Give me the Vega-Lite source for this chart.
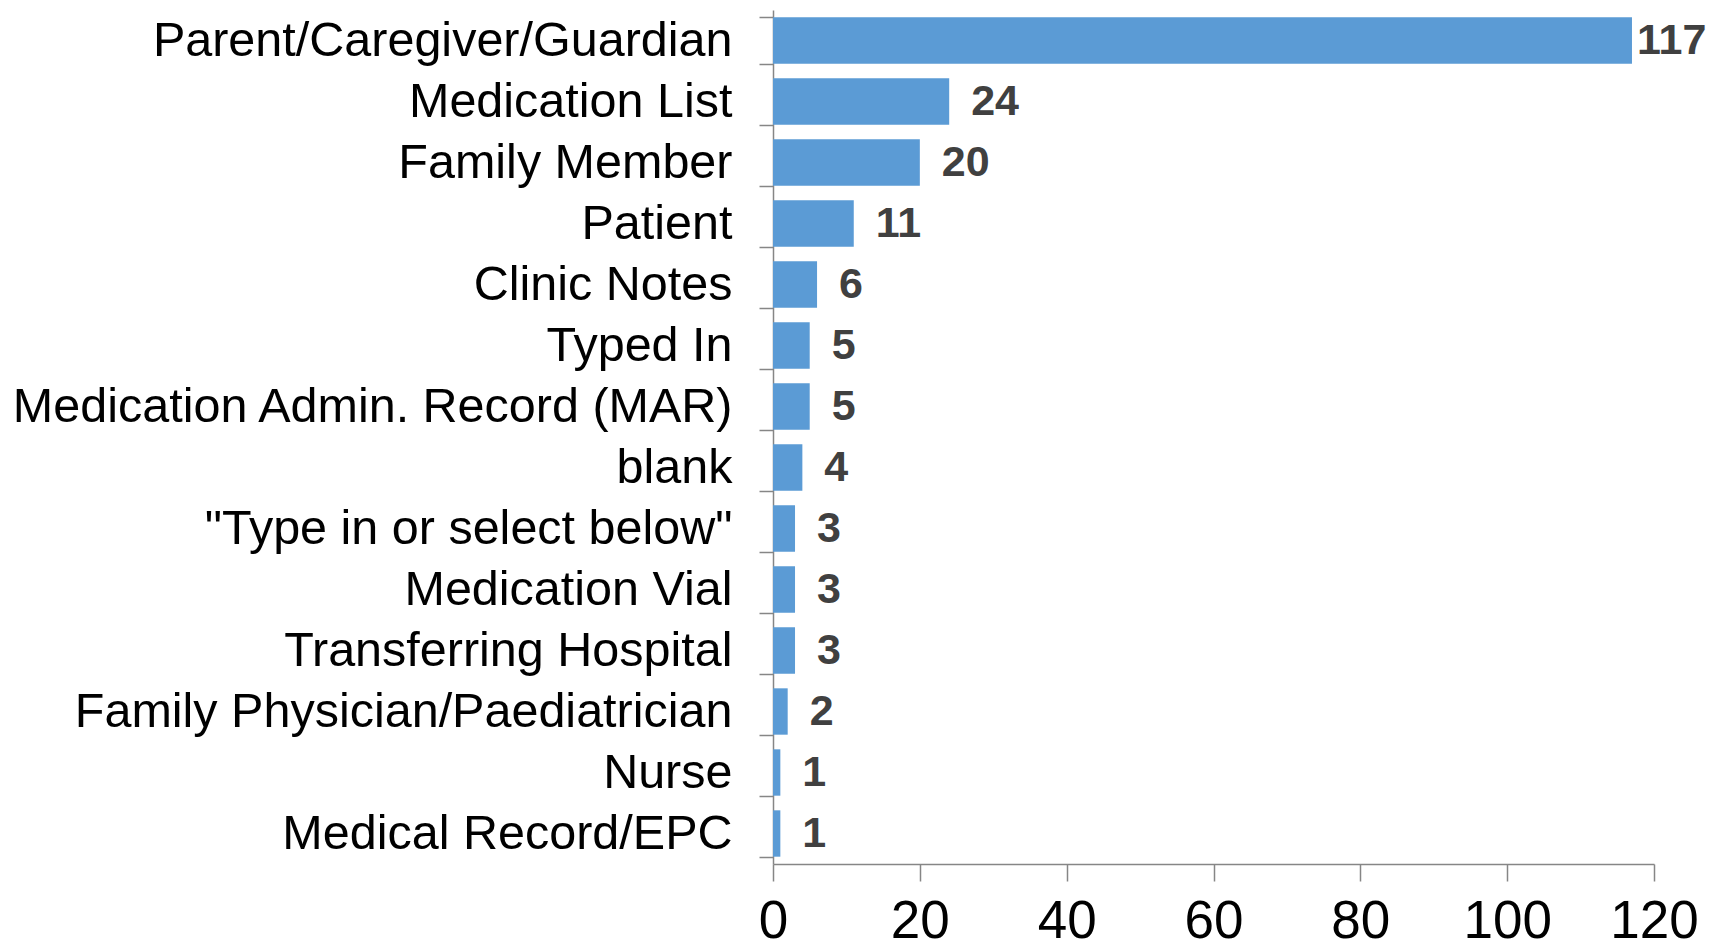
{
  "$schema": "https://vega.github.io/schema/vega-lite/v6.json",
  "autosize": "none",
  "width": 881,
  "height": 854,
  "padding": {"left": 773, "top": 10, "right": 66, "bottom": 83},
  "background": "white",
  "data": {"values": [
    {"source": "Parent/Caregiver/Guardian", "count": 117},
    {"source": "Medication List", "count": 24},
    {"source": "Family Member", "count": 20},
    {"source": "Patient", "count": 11},
    {"source": "Clinic Notes", "count": 6},
    {"source": "Typed In", "count": 5},
    {"source": "Medication Admin. Record (MAR)", "count": 5},
    {"source": "blank", "count": 4},
    {"source": "\"Type in or select below\"", "count": 3},
    {"source": "Medication Vial", "count": 3},
    {"source": "Transferring Hospital", "count": 3},
    {"source": "Family Physician/Paediatrician", "count": 2},
    {"source": "Nurse", "count": 1},
    {"source": "Medical Record/EPC", "count": 1}
  ]},
  "encoding": {
    "y": {"field": "source", "type": "nominal", "sort": null,
      "scale": {"paddingInner": 0.24, "paddingOuter": 0.12},
      "axis": {"title": null, "tickBand": "extent", "tickSize": 14, "labelPadding": 27,
        "labelFont": "Liberation Sans", "labelFontSize": 48.5, "labelColor": "#000000",
        "domainColor": "#868686", "tickColor": "#868686", "domainWidth": 1.5, "tickWidth": 1.5, "labelLimit": 1000}},
    "x": {"field": "count", "type": "quantitative",
      "scale": {"domain": [0, 120], "nice": false},
      "axis": {"title": null, "values": [0, 20, 40, 60, 80, 100, 120], "grid": false, "tickSize": 17, "labelPadding": 14, "labelFlush": false,
        "labelFont": "Liberation Sans", "labelFontSize": 53, "labelColor": "#000000",
        "domainColor": "#868686", "tickColor": "#868686", "domainWidth": 1.5, "tickWidth": 1.5}}
  },
  "layer": [
    {"mark": {"type": "bar", "color": "#5B9BD5"}},
    {"transform": [{"filter": "datum.count < 100"}],
     "mark": {"type": "text", "align": "left", "dx": 22, "font": "Liberation Sans", "fontWeight": "bold", "fontSize": 43, "color": "#404040"},
     "encoding": {"text": {"field": "count", "type": "quantitative"}}},
    {"transform": [{"filter": "datum.count >= 100"}],
     "mark": {"type": "text", "align": "left", "dx": 5, "font": "Liberation Sans", "fontWeight": "bold", "fontSize": 43, "color": "#404040"},
     "encoding": {"text": {"field": "count", "type": "quantitative"}}}
  ],
  "config": {"view": {"stroke": null}}
}
